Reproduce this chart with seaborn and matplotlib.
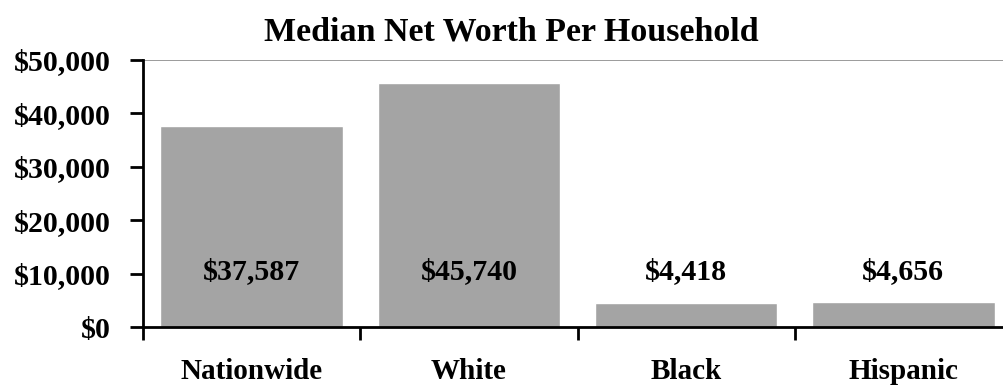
import matplotlib
matplotlib.use("Agg")
import matplotlib.pyplot as plt
import seaborn as sns
import pandas as pd
from matplotlib.ticker import FuncFormatter, FixedLocator

groups = ["Nationwide", "White", "Black", "Hispanic"]
net_worth = [37587, 45740, 4418, 4656]
y_ticks = [0, 10000, 20000, 30000, 40000, 50000]

df = pd.DataFrame({"group": groups, "net_worth": net_worth})

sns.set_theme(style="white")
plt.rcParams["font.family"] = ["Liberation Serif", "DejaVu Serif"]
plt.rcParams["font.weight"] = "bold"
plt.rcParams["text.color"] = "black"
plt.rcParams["xtick.color"] = "black"
plt.rcParams["ytick.color"] = "black"

fig = plt.figure(figsize=(10.04, 3.88), dpi=100)
ax = fig.add_axes([143 / 1004, 61 / 388, (1012 - 143) / 1004, 267 / 388])

sns.barplot(data=df, x="group", y="net_worth", color="#a4a4a4", saturation=1,
            width=0.84, ax=ax)

ax.set_xlim(-0.5, 3.5)
ax.set_ylim(0, 50000)
ax.set_yticks(y_ticks)
ax.yaxis.set_major_formatter(FuncFormatter(lambda v, p: f"${v:,.0f}"))
ax.axhline(50000, color="#8a8a8a", lw=1.2, zorder=0)

# value labels at a fixed height
for i, v in enumerate(net_worth):
    ax.text(i, 10300, f"${v:,}", ha="center", va="center",
            fontsize=21.5, fontweight="bold", color="black")

ax.set_xlabel("")
ax.set_ylabel("")
ax.set_title("Median Net Worth Per Household", fontsize=24.5, fontweight="bold",
             color="black", pad=14, x=(511 - 143) / (1012 - 143))

for s in ["top", "right"]:
    ax.spines[s].set_visible(False)
for s in ["left", "bottom"]:
    ax.spines[s].set_color("black")
    ax.spines[s].set_linewidth(2)

ax.tick_params(axis="y", which="major", direction="out", length=9.5, width=2,
               color="black", labelcolor="black", left=True, labelsize=21.5, pad=14)
ax.tick_params(axis="x", which="major", length=0, labelsize=21, pad=22,
               labelcolor="black")
ax.xaxis.set_minor_locator(FixedLocator([-0.5, 0.5, 1.5, 2.5, 3.5]))
ax.tick_params(axis="x", which="minor", direction="out", length=9.5, width=2,
               color="black", bottom=True)
for lbl in ax.get_xticklabels() + ax.get_yticklabels():
    lbl.set_fontweight("bold")

fig.savefig("out.png", dpi=100)
